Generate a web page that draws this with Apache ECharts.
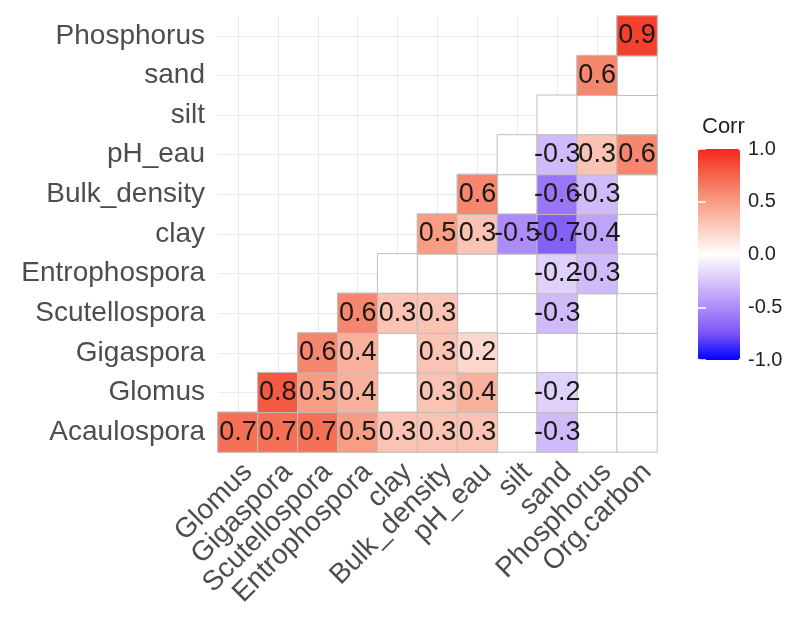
<!DOCTYPE html>
<html>
<head>
<meta charset="utf-8">
<script src="https://cdn.jsdelivr.net/npm/echarts@6/dist/echarts.min.js"></script>
<style>html,body{margin:0;padding:0;background:#fff}#c{width:794px;height:619px}</style>
</head>
<body>
<div id="c"></div>
<script>
// ---- data ----
const xVars = ['Glomus', 'Gigaspora', 'Scutellospora', 'Entrophospora', 'clay', 'Bulk_density', 'pH_eau', 'silt', 'sand', 'Phosphorus', 'Org.carbon'];
const yVars = ['Acaulospora', 'Glomus', 'Gigaspora', 'Scutellospora', 'Entrophospora', 'clay', 'Bulk_density', 'pH_eau', 'silt', 'sand', 'Phosphorus'];
// each row lists the values for x columns starting at the row's own index; null = blank cell
const rowAcaulospora   = [0.7, 0.7, 0.7, 0.5, 0.3, 0.3, 0.3, null, -0.3, null, null];
const rowGlomus        = [0.8, 0.5, 0.4, null, 0.3, 0.4, null, -0.2, null, null];
const rowGigaspora     = [0.6, 0.4, null, 0.3, 0.2, null, null, null, null];
const rowScutellospora = [0.6, 0.3, 0.3, null, null, -0.3, null, null];
const rowEntrophospora = [null, null, null, null, -0.2, -0.3, null];
const rowClay          = [0.5, 0.3, -0.5, -0.7, -0.4, null];
const rowBulkDensity   = [0.6, null, -0.6, -0.3, null];
const rowPhEau         = [null, -0.3, 0.3, 0.6];
const rowSilt          = [null, null, null];
const rowSand          = [0.6, null];
const rowPhosphorus    = [0.9];
const legendMin = -1, legendMax = 1, legendStep = 0.5;

const rows = [rowAcaulospora, rowGlomus, rowGigaspora, rowScutellospora, rowEntrophospora,
  rowClay, rowBulkDensity, rowPhEau, rowSilt, rowSand, rowPhosphorus];

const cellData = [];
const valueData = [];
rows.forEach((row, r) => {
  row.forEach((v, k) => {
    const x = r + k;
    cellData.push([x, r, 0]);
    if (v !== null) valueData.push([x, r, v]);
  });
});

// helper slot axes so grid lines sit at category centres
const xSlots = Array.from({length: xVars.length * 2 + 1}, (_, i) => 'xs' + i);
const ySlots = Array.from({length: yVars.length * 2 + 1}, (_, i) => 'ys' + i);

const FONT = '"Liberation Sans", Arial, sans-serif';
const gridLine = {show: true, interval: (i) => i % 2 === 1, lineStyle: {color: '#ebebeb', width: 1}};

const option = {
  animation: false,
  backgroundColor: '#fff',
  textStyle: {fontFamily: FONT},
  title: {
    text: 'Corr', left: 697, top: 111,
    textStyle: {fontSize: 22, fontWeight: 'normal', color: '#222', fontFamily: FONT}
  },
  grid: [
    {left: 218, top: 16, width: 439, height: 436},
    {left: 698, top: 149, width: 42, height: 211}
  ],
  xAxis: [
    {
      type: 'category', data: xVars, gridIndex: 0,
      axisLine: {show: false}, axisTick: {show: false}, splitLine: {show: false},
      axisLabel: {rotate: 45, interval: 0, fontSize: 28, color: '#4d4d4d', margin: 6,
        align: 'right', verticalAlign: 'top', fontFamily: FONT}
    },
    {
      type: 'category', data: xSlots, gridIndex: 0, boundaryGap: false,
      axisLine: {show: false}, axisTick: {show: false}, axisLabel: {show: false},
      splitLine: gridLine
    },
    {type: 'value', gridIndex: 1, show: false}
  ],
  yAxis: [
    {
      type: 'category', data: yVars, gridIndex: 0,
      axisLine: {show: false}, axisTick: {show: false}, splitLine: {show: false},
      axisLabel: {interval: 0, fontSize: 28, color: '#4d4d4d', margin: 13, fontFamily: FONT}
    },
    {
      type: 'category', data: ySlots, gridIndex: 0, boundaryGap: false,
      axisLine: {show: false}, axisTick: {show: false}, axisLabel: {show: false},
      splitLine: gridLine
    },
    {
      type: 'value', gridIndex: 1, min: legendMin, max: legendMax, interval: legendStep,
      position: 'right', z: 10,
      axisLine: {show: false}, splitLine: {show: false},
      axisTick: {show: true, inside: true, length: 8, lineStyle: {color: '#fff', width: 1.5}},
      axisLabel: {formatter: (v) => v.toFixed(1), fontSize: 20, color: '#222', margin: 8, fontFamily: FONT}
    },
    {
      type: 'value', gridIndex: 1, min: legendMin, max: legendMax, interval: legendStep,
      position: 'left', z: 10,
      axisLine: {show: false}, splitLine: {show: false}, axisLabel: {show: false},
      axisTick: {show: true, inside: true, length: 8, lineStyle: {color: '#fff', width: 1.5}}
    }
  ],
  visualMap: {
    type: 'continuous', min: legendMin, max: legendMax, seriesIndex: 1, dimension: 2,
    left: 698, top: 149, itemWidth: 42, itemHeight: 211, padding: 0,
    calculable: false, hoverLink: false,
    inRange: {color: ['#0000FF', '#7B55F5', '#AE8CF8', '#D8C6FA', '#FFFFFF', '#FBCDBF', '#F89C84', '#F3664C', '#F8261A']}
  },
  series: [
    {
      type: 'heatmap', xAxisIndex: 0, yAxisIndex: 0, data: cellData,
      itemStyle: {color: '#fff', borderColor: '#bebebe', borderWidth: 1},
      emphasis: {disabled: true}, silent: true
    },
    {
      type: 'heatmap', xAxisIndex: 0, yAxisIndex: 0, data: valueData,
      itemStyle: {borderColor: '#bebebe', borderWidth: 1},
      label: {show: true, formatter: (p) => p.value[2].toFixed(1), fontSize: 27, color: '#1a1a1a', fontFamily: FONT},
      emphasis: {disabled: true}, silent: true
    }
  ]
};

const chart = echarts.init(document.getElementById('c'), null, {renderer: 'canvas'});
chart.setOption(option);
</script>
</body>
</html>
